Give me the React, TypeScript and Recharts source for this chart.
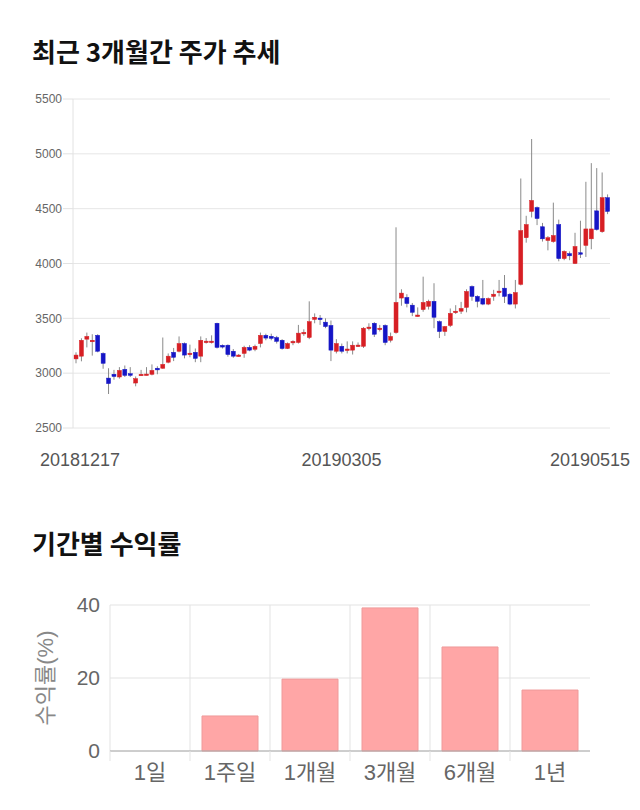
import React from 'react';
import { BarChart, Bar, XAxis, YAxis, CartesianGrid } from 'recharts';

// daily candles, 20181217 .. 20190515
const opens = [
  3130, 3155, 3310, 3290, 3345, 3180, 2955, 2990, 2965, 3035, 2995, 2910, 2985, 2985, 2990, 3045, 3045, 3100, 3190, 3200,
  3270, 3175, 3190, 3155, 3285, 3288, 3455, 3254, 3255, 3200, 3162, 3180, 3235, 3218, 3270, 3345, 3336, 3325, 3300, 3225,
  3285, 3280, 3368, 3325, 3490, 3502, 3465, 3435, 3200, 3245, 3215, 3210, 3250, 3245, 3415, 3455, 3406, 3435, 3300, 3370,
  3685, 3690, 3620, 3525, 3580, 3610, 3655, 3470, 3380, 3435, 3560, 3565, 3600, 3790, 3700, 3680, 3630, 3700, 3742, 3775,
  3720, 3630, 3810, 4235, 4475, 4510, 4335, 4210, 4200, 4355, 4045, 4090, 4000, 4098, 4165, 4225, 4480, 4290, 4600,
];
const highs = [
  3190, 3318, 3370, 3355, 3355, 3190, 3045, 3030, 3055, 3070, 3055, 2970, 3030, 3055, 3080, 3063, 3325, 3180, 3230, 3335,
  3280, 3260, 3225, 3335, 3320, 3345, 3460, 3262, 3262, 3220, 3175, 3250, 3255, 3260, 3370, 3360, 3360, 3340, 3310, 3280,
  3300, 3440, 3400, 3655, 3545, 3530, 3500, 3480, 3310, 3270, 3290, 3290, 3280, 3420, 3455, 3465, 3440, 3445, 3370, 4330,
  3765, 3720, 3640, 3600, 3880, 3670, 3820, 3480, 3430, 3590, 3620, 3650, 3765, 3800, 3710, 3850, 3690, 3760, 3850, 3895,
  3730, 3850, 4775, 4435, 5135, 4520, 4370, 4250, 4555, 4400, 4120, 4110, 4280, 4390, 4745, 4915, 4870, 4830, 4630,
];
const lows = [
  3090, 3108, 3235, 3160, 3190, 3040, 2810, 2940, 2950, 2965, 2965, 2880, 2975, 2980, 2980, 2990, 3040, 3090, 3110, 3190,
  3135, 3145, 3100, 3100, 3270, 3270, 3225, 3225, 3150, 3140, 3150, 3140, 3200, 3200, 3235, 3300, 3300, 3270, 3215, 3220,
  3255, 3270, 3340, 3310, 3455, 3440, 3410, 3110, 3180, 3180, 3180, 3170, 3240, 3230, 3390, 3330, 3380, 3255, 3280, 3360,
  3615, 3600, 3520, 3515, 3560, 3580, 3410, 3320, 3340, 3420, 3540, 3540, 3555, 3660, 3600, 3620, 3620, 3660, 3700, 3640,
  3620, 3590, 3800, 4190, 4420, 4350, 4200, 4120, 4190, 4020, 4030, 4030, 3995, 4050, 4060, 4130, 4300, 4280, 4450,
];
const closes = [
  3165, 3300, 3335, 3300, 3200, 3090, 2905, 2970, 3025, 2980, 2980, 2950, 2990, 2992, 3025, 3030, 3080, 3155, 3145, 3270,
  3165, 3182, 3135, 3300, 3292, 3292, 3235, 3238, 3170, 3155, 3165, 3235, 3210, 3245, 3345, 3320, 3318, 3290, 3225, 3270,
  3290, 3365, 3372, 3470, 3510, 3498, 3425, 3210, 3270, 3200, 3220, 3255, 3256, 3410, 3420, 3355, 3410, 3280, 3335, 3645,
  3730, 3635, 3555, 3530, 3645, 3655, 3510, 3380, 3425, 3545, 3565, 3590, 3745, 3700, 3655, 3630, 3680, 3720, 3748, 3700,
  3630, 3735, 4300, 4355, 4575, 4410, 4225, 4235, 4255, 4045, 4110, 4070, 4155, 4092, 4315, 4315, 4310, 4600, 4475,
];
const priceTicks = [2500, 3000, 3500, 4000, 4500, 5000, 5500];
const dateTickIdx = [0, 49, 98];
const dateTickLabels = ['20181217', '20190305', '20190515'];

// period returns (%)
const periods = ['1일', '1주일', '1개월', '3개월', '6개월', '1년'];
const returns = [0, 9.6, 19.7, 39.2, 28.5, 16.7];
const returnTicks = [0, 20, 40];

const candleData = opens.map((o, i) => ({
  i,
  open: o,
  high: highs[i],
  low: lows[i],
  close: closes[i],
  range: [lows[i], highs[i]],
}));
const returnData = periods.map((p, i) => ({ name: p, value: returns[i] }));

const AXIS_FONT = "'Liberation Sans', Arial, 'Noto Sans CJK KR', sans-serif";
const TITLE_FONT = "'Noto Sans CJK KR', 'Noto Sans', sans-serif";

const Candle = (props: any) => {
  const { x, y, width, height, payload } = props;
  if (!payload) return null;
  const { open, close, high, low } = payload;
  const top0 = Math.min(y, y + height);
  const h = Math.abs(height);
  const ratio = h / (high - low || 1);
  const yOf = (v: number) => top0 + (high - v) * ratio;
  const cx = x + width / 2;
  const up = close >= open;
  const bTop = yOf(Math.max(open, close));
  const bBot = yOf(Math.min(open, close));
  const bodyH = Math.max(bBot - bTop, 1.5);
  const color = up ? '#d71f24' : '#1515c6';
  return (
    <g>
      <line x1={cx} x2={cx} y1={top0} y2={top0 + h} stroke="#8a8a8a" strokeWidth={1} />
      <rect x={x} y={bTop} width={width} height={bodyH} fill={color} stroke={color} strokeWidth={0.5} />
    </g>
  );
};

const DateTick = (props: any) => {
  const { x, y, payload } = props;
  const k = dateTickIdx.indexOf(payload.value);
  const label = k >= 0 ? dateTickLabels[k] : '';
  // keep end labels inside the frame
  const tx = Math.min(Math.max(x, 80), 590);
  return (
    <text x={tx} y={y} dy="0.71em" textAnchor="middle" fill="#555" fontSize={18} fontFamily={AXIS_FONT}>
      {label}
    </text>
  );
};

const PERIOD_TICK_GAP = 13;
const PeriodTick = (props: any) => {
  const { x, y, payload } = props;
  const half = payload.offset || 40;
  return (
    <g>
      <line x1={x - half} x2={x - half} y1={y - PERIOD_TICK_GAP} y2={y - PERIOD_TICK_GAP + 10} stroke="#e3e3e3" />
      <text x={x} y={y} dy="0.71em" textAnchor="middle" fill="#666" fontSize={22} fontFamily={AXIS_FONT}>
        {payload.value}
      </text>
    </g>
  );
};

const titleStyle: React.CSSProperties = {
  position: 'absolute',
  left: 32,
  fontFamily: TITLE_FONT,
  fontWeight: 700,
  fontSize: 26,
  lineHeight: '30px',
  color: '#111',
  margin: 0,
};

export default function App() {
  return (
    <div style={{ position: 'absolute', left: 0, top: 0, width: 640, height: 810, background: '#fff', overflow: 'hidden' }}>
      <div style={{ ...titleStyle, top: 36 }}>최근 3개월간 주가 추세</div>
      <div style={{ position: 'absolute', left: 0, top: 0 }}>
        <BarChart width={640} height={480} data={candleData} margin={{ top: 99, right: 30, bottom: 0, left: 0 }}>
          <CartesianGrid vertical={false} stroke="#e6e6e6" />
          <XAxis
            dataKey="i"
            ticks={dateTickIdx}
            interval={0}
            height={52}
            axisLine={false}
            tickLine={false}
            tickSize={6}
            tickMargin={19}
            tick={<DateTick />}
          />
          <YAxis
            domain={[2500, 5500]}
            ticks={priceTicks}
            width={73}
            axisLine={{ stroke: '#e2e2e2' }}
            tickLine={{ stroke: '#e2e2e2' }}
            tickSize={10}
            tickMargin={1}
            tick={{ fill: '#666', fontSize: 12, fontFamily: AXIS_FONT }}
          />
          <Bar dataKey="range" barSize={4} shape={<Candle />} isAnimationActive={false} />
        </BarChart>
      </div>

      <div style={{ ...titleStyle, top: 528 }}>기간별 수익률</div>
      <div style={{ position: 'absolute', left: 0, top: 560 }}>
        <BarChart width={640} height={240} data={returnData} margin={{ top: 45, right: 50, bottom: 0, left: 0 }} barCategoryGap="15%">
          <CartesianGrid
            stroke="#e3e3e3"
            verticalCoordinatesGenerator={({ offset }: any) =>
              periods.map((_, i) => offset.left + (i * offset.width) / periods.length)
            }
          />
          <XAxis
            dataKey="name"
            height={49}
            axisLine={{ stroke: '#aaa' }}
            tickLine={false}
            tickSize={6}
            tickMargin={7}
            tick={<PeriodTick />}
          />
          <YAxis
            domain={[0, 40]}
            ticks={returnTicks}
            width={110}
            axisLine={false}
            tickLine={false}
            tickSize={6}
            tickMargin={4}
            tick={{ fill: '#666', fontSize: 21, fontFamily: AXIS_FONT }}
            label={{
              value: '수익률(%)',
              angle: -90,
              position: 'center',
              dx: -10,
              fill: '#888',
              fontSize: 22,
              fontFamily: AXIS_FONT,
            }}
          />
          <Bar dataKey="value" fill="#ffa6a6" stroke="#ef9a9a" strokeWidth={1} isAnimationActive={false} />
        </BarChart>
      </div>
    </div>
  );
}
